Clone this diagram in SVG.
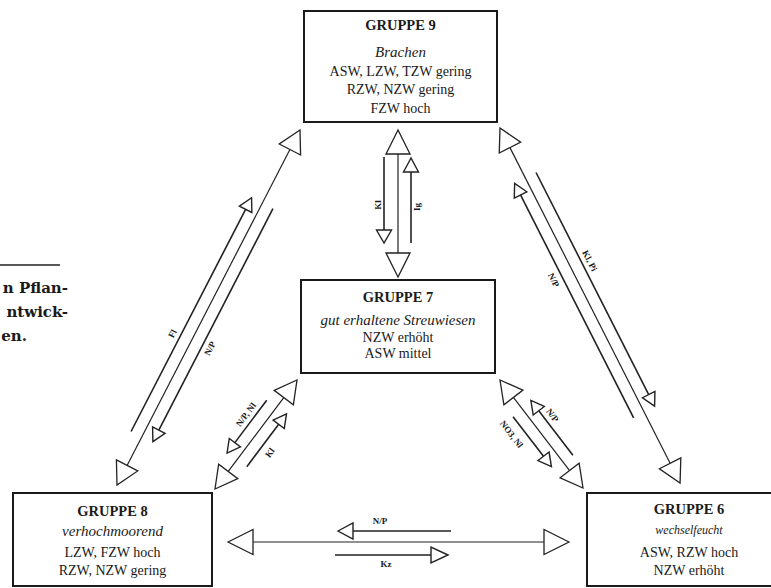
<svg xmlns="http://www.w3.org/2000/svg" width="771" height="588" viewBox="0 0 771 588">
<style>
  .box{fill:#fff;stroke:#1a1a1a;stroke-width:2}
  .t{font-family:"Liberation Serif","Times New Roman",serif;fill:#1a1a1a;text-anchor:middle}
  .title{font-size:14.5px;font-weight:bold}
  .it{font-size:15px;font-style:italic}
  .rg{font-size:14px}
  .main{stroke:#222;stroke-width:1.2;fill:none}
  .par{stroke:#222;stroke-width:1.6;fill:none}
  .big{fill:#fff;stroke:#222;stroke-width:1.3;stroke-linejoin:miter}
  .sm{fill:#fff;stroke:#222;stroke-width:1.4}
  .lb{font-family:"Liberation Serif","Times New Roman",serif;font-size:9px;font-weight:bold;fill:#1a1a1a;text-anchor:middle}
  .side{font-family:"DejaVu Serif","Liberation Serif",serif;font-size:15px;font-weight:bold;fill:#1a1a1a;text-anchor:end}
</style>
<rect width="771" height="588" fill="#fff"/>

<g id="caption">
  <line x1="0" y1="265" x2="60" y2="265" stroke="#222" stroke-width="1.5"/>
  <text class="side" x="68" y="293">n Pflan-</text>
  <text class="side" x="68" y="317">ntwick-</text>
  <text class="side" x="27" y="341">en.</text>
</g>

<g id="connectors">
  <!-- G8 - G9 -->
  <g transform="translate(117,485) rotate(-62.73)">
    <line class="main" x1="22" y1="0" x2="377.4" y2="0"/>
    <polygon class="big" points="0,0 22,-12 22,12"/>
    <polygon class="big" points="399.4,0 377.4,-12 377.4,12"/>
    <line class="par" x1="54" y1="-12" x2="304" y2="-12"/>
    <polygon class="sm" points="317,-12 304,-19 304,-5"/>
    <line class="par" x1="68" y1="12" x2="317" y2="12"/>
    <polygon class="sm" points="55,12 68,5 68,19"/>
    <text class="lb" x="160" y="-17">Fl</text>
    <text class="lb" x="164" y="23">N/P</text>
  </g>
  <!-- G9 - G6 -->
  <g transform="translate(500,128) rotate(63.1)">
    <line class="main" x1="22" y1="0" x2="376" y2="0"/>
    <polygon class="big" points="0,0 22,-12 22,12"/>
    <polygon class="big" points="398,0 376,-12 376,12"/>
    <line class="par" x1="56" y1="-12" x2="305" y2="-12"/>
    <polygon class="sm" points="318,-12 305,-19 305,-5"/>
    <line class="par" x1="69" y1="12" x2="319" y2="12"/>
    <polygon class="sm" points="56,12 69,5 69,19"/>
    <text class="lb" x="159" y="-17">Kl, Pi</text>
    <text class="lb" x="160" y="24">N/P</text>
  </g>
  <!-- G9 - G7 -->
  <g>
    <line class="main" x1="398" y1="154" x2="398" y2="253"/>
    <polygon class="big" points="398,130 386,154 410,154"/>
    <polygon class="big" points="398,277 386,253 410,253"/>
    <line class="par" x1="384" y1="157" x2="384" y2="230"/>
    <polygon class="sm" points="384,243 376.5,230 391.5,230"/>
    <line class="par" x1="411" y1="243" x2="411" y2="172"/>
    <polygon class="sm" points="411,158 403.5,172 418.5,172"/>
    <text class="lb" transform="translate(381,205) rotate(-90)">Kl</text>
    <text class="lb" transform="translate(420,207) rotate(-90)">Ig</text>
  </g>
  <!-- G8 - G7 -->
  <g transform="translate(215,489) rotate(-53.05)">
    <line class="main" x1="22" y1="0" x2="114.4" y2="0"/>
    <polygon class="big" points="0,0 22,-12 22,12"/>
    <polygon class="big" points="136.4,0 114.4,-12 114.4,12"/>
    <line class="par" x1="49" y1="-12" x2="102" y2="-12"/>
    <polygon class="sm" points="36,-12 49,-19 49,-5"/>
    <line class="par" x1="37" y1="12" x2="90" y2="12"/>
    <polygon class="sm" points="103,12 90,5 90,19"/>
    <text class="lb" x="78" y="-17">N/P, Nl</text>
    <text class="lb" x="62" y="25">Kl</text>
  </g>
  <!-- G7 - G6 -->
  <g transform="translate(500,380) rotate(52.45)">
    <line class="main" x1="22" y1="0" x2="114.2" y2="0"/>
    <polygon class="big" points="0,0 22,-12 22,12"/>
    <polygon class="big" points="136.2,0 114.2,-12 114.2,12"/>
    <line class="par" x1="48" y1="-12" x2="104" y2="-12"/>
    <polygon class="sm" points="35,-12 48,-19 48,-5"/>
    <line class="par" x1="37" y1="12" x2="87" y2="12"/>
    <polygon class="sm" points="100,12 87,5 87,19"/>
    <text class="lb" x="60" y="-17">N/P</text>
    <text class="lb" x="50" y="27">NO3, Nl</text>
  </g>
  <!-- G8 - G6 -->
  <g>
    <line class="main" x1="253" y1="542" x2="544" y2="542"/>
    <polygon class="big" points="228,542 253,529.5 253,554.5"/>
    <polygon class="big" points="569,542 544,529.5 544,554.5"/>
    <line class="par" x1="353" y1="531" x2="451" y2="531"/>
    <polygon class="sm" points="338,531 353,523 353,539"/>
    <line class="par" x1="335" y1="555" x2="431" y2="555"/>
    <polygon class="sm" points="448,555 431,547 431,563"/>
    <text class="lb" x="380" y="524">N/P</text>
    <text class="lb" x="386" y="567">Kz</text>
  </g>
</g>

<g id="g9">
  <rect class="box" x="304" y="11" width="193" height="111"/>
  <text class="t title" x="400.5" y="30">GRUPPE 9</text>
  <text class="t it" x="400.5" y="57">Brachen</text>
  <text class="t rg" x="400.5" y="76">ASW, LZW, TZW gering</text>
  <text class="t rg" x="400.5" y="94">RZW, NZW gering</text>
  <text class="t rg" x="400.5" y="112.5">FZW hoch</text>
</g>

<g id="g7">
  <rect class="box" x="301" y="280" width="194" height="93"/>
  <text class="t title" x="398" y="302">GRUPPE 7</text>
  <text class="t it" x="398" y="324.5">gut erhaltene Streuwiesen</text>
  <text class="t rg" x="398" y="341.5">NZW erhöht</text>
  <text class="t rg" x="398" y="357.5">ASW mittel</text>
</g>

<g id="g8">
  <rect class="box" x="13" y="493" width="199" height="93"/>
  <text class="t title" x="112.5" y="516">GRUPPE 8</text>
  <text class="t it" x="112.5" y="535.5">verhochmoorend</text>
  <text class="t rg" x="112.5" y="556.5">LZW, FZW hoch</text>
  <text class="t rg" x="112.5" y="574.5">RZW, NZW gering</text>
</g>

<g id="g6">
  <rect class="box" x="587" y="493" width="190" height="93"/>
  <text class="t title" x="689" y="514">GRUPPE 6</text>
  <text class="t it" x="689" y="533.5" style="font-size:12px">wechselfeucht</text>
  <text class="t rg" x="689" y="556.5">ASW, RZW hoch</text>
  <text class="t rg" x="689" y="574.5">NZW erhöht</text>
</g>
</svg>
